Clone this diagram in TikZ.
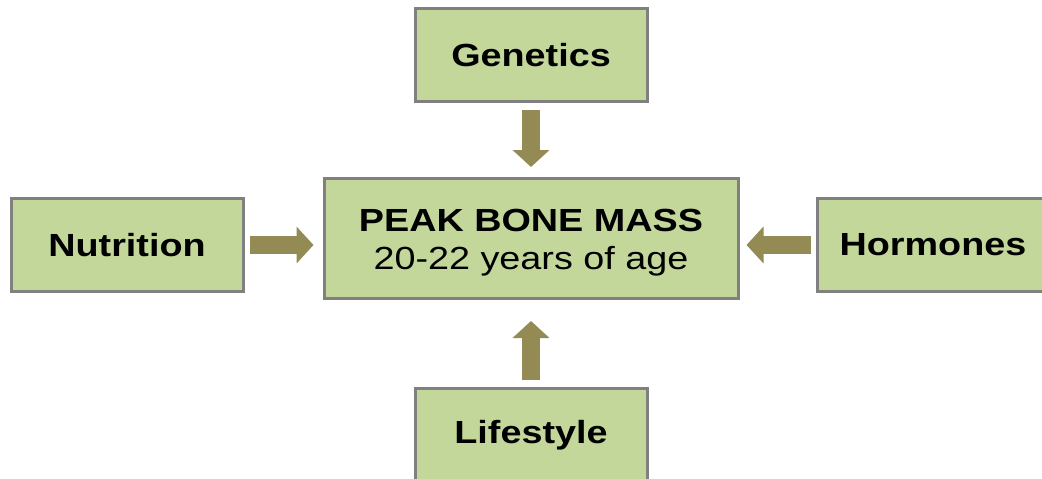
\documentclass[tikz,border=0pt]{standalone}
\usepackage{graphicx}
\usepackage{fontspec}
\setmainfont{Liberation Sans}
\usetikzlibrary{arrows.meta, positioning, calc}
\definecolor{factorgreen}{HTML}{C4D79B}
\definecolor{factorborder}{HTML}{808080}
\definecolor{arrowolive}{HTML}{948A54}
\newcommand{\widetext}[1]{\scalebox{1.18}[1]{#1}}

\begin{document}
\begin{tikzpicture}[x=1pt, y=-1pt,
      factorbox/.style={draw=factorborder, fill=factorgreen, line width=3pt,
        minimum width=232pt, minimum height=93pt, inner sep=0pt,
        font=\fontsize{32}{38}\selectfont\bfseries},
      blockarrow/.style={draw=arrowolive, line width=18pt,
        -{Triangle[length=17pt, width=36pt, fill=arrowolive]}}
    ]
      \useasboundingbox (0,0) rectangle (1042,479);
      \node[factorbox, minimum width=414pt, minimum height=120pt, align=center,
        text height=61pt, text depth=0pt,
        font=\fontsize{32}{38}\selectfont] (peak) at (531,238.5)
        {\widetext{\textbf{PEAK BONE MASS}}\\\widetext{20-22 years of age}};
      \node[factorbox, above=74pt of peak] (genetics) {\widetext{Genetics}};
      \node[factorbox, left=78pt of peak, yshift=-6.5pt] (nutrition) {\widetext{Nutrition}};
      \node[factorbox, right=76pt of peak, yshift=-6.5pt] (hormones) {\widetext{Hormones}};
      \node[factorbox, below=87pt of peak] (lifestyle) {\widetext{Lifestyle}};
      \draw[blockarrow] ([yshift=-7pt]genetics.south) -- ([yshift=10pt]peak.north);
      \draw[blockarrow] ([yshift=7pt]lifestyle.north) -- ([yshift=-21pt]peak.south);
      \draw[blockarrow] ([xshift=5pt]nutrition.east)
        -- ($(nutrition.east -| peak.west)+(-9,0)$);
      \draw[blockarrow] ([xshift=-5pt]hormones.west)
        -- ($(hormones.west -| peak.east)+(7,0)$);
    \end{tikzpicture}
\end{document}
